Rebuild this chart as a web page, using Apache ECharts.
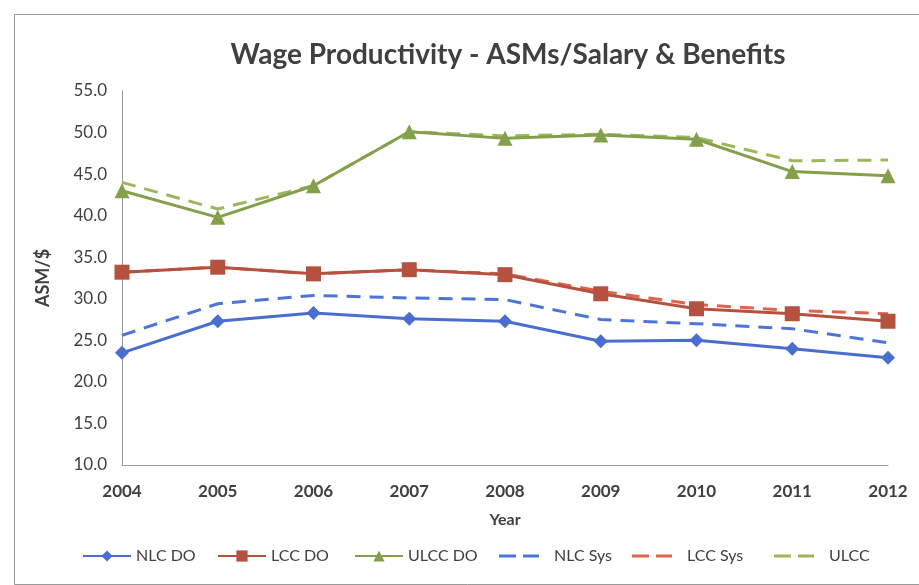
<!DOCTYPE html>
<html>
<head>
<meta charset="utf-8">
<script src="https://cdn.jsdelivr.net/npm/echarts@6/dist/echarts.min.js"></script>
<style>
  html, body { margin: 0; padding: 0; background: #ffffff; }
  #chart { width: 919px; height: 585px; }
</style>
</head>
<body>
<div id="chart"></div>
<script>
// Years on the category axis
const years = ['2004', '2005', '2006', '2007', '2008', '2009', '2010', '2011', '2012'];

// ASMs per dollar of salary & benefits, domestic operations
const nlcDO  = [23.5, 27.3, 28.3, 27.6, 27.3, 24.9, 25.0, 24.0, 22.9];
const lccDO  = [33.2, 33.8, 33.0, 33.5, 32.9, 30.6, 28.8, 28.2, 27.3];
const ulccDO = [43.0, 39.8, 43.6, 50.1, 49.3, 49.7, 49.2, 45.3, 44.8];

// System-wide figures
const nlcSys  = [25.6, 29.4, 30.4, 30.1, 29.9, 27.5, 27.0, 26.4, 24.7];
const lccSys  = [33.2, 33.8, 33.0, 33.5, 33.0, 30.9, 29.3, 28.6, 28.2];
const ulccSys = [44.0, 40.8, 43.6, 50.1, 49.6, 49.8, 49.4, 46.6, 46.7];

const FONT = 'Lato, "Open Sans", sans-serif';
const TEXT = '#404040';
const BLUE = '#4A6DD0', RED = '#B5513F', GREEN = '#84A04A';
const BLUE_D = '#4E74DA', RED_D = '#E0624F', GREEN_D = '#9CB65C';

// two short dashes, used as the legend icon of the dashed series
const DASH_ICON = 'path://M0,0H17V3H0Z M24,0H40V3H24Z';

function solid(name, data, color, symbol, size) {
  return {
    name, type: 'line', data,
    symbol, symbolSize: size,
    lineStyle: { color, width: 3 },
    itemStyle: { color },
    z: 3
  };
}
function dashed(name, data, color) {
  return {
    name, type: 'line', data,
    symbol: 'none',
    lineStyle: { color, width: 3, type: [14, 9] },
    itemStyle: { color },
    z: 2
  };
}

// one legend block per series so each entry sits at its own spot
function legendAt(name, left, isDash) {
  const base = {
    top: 543, left,
    itemHeight: 14,
    textStyle: { fontFamily: FONT, fontSize: 16, color: TEXT },
    selectedMode: false
  };
  if (isDash) {
    return Object.assign(base, {
      itemWidth: 40,
      data: [{ name, icon: DASH_ICON }],
      textStyle: { fontFamily: FONT, fontSize: 16, color: TEXT, padding: [0, 0, 0, 10] }
    });
  }
  return Object.assign(base, { itemWidth: 48, data: [name] });
}

const chart = echarts.init(document.getElementById('chart'), null, { renderer: 'canvas' });
chart.setOption({
  backgroundColor: '#ffffff',
  animation: false,
  graphic: [{
    type: 'rect', left: 12, top: 12, z: -1,
    shape: { width: 915, height: 570 },
    style: { fill: 'none', stroke: '#9a9a9a', lineWidth: 1 }
  }],
  title: {
    text: 'Wage Productivity - ASMs/Salary & Benefits',
    left: 503, top: 36, textAlign: 'center',
    textStyle: { fontFamily: FONT, fontWeight: 'bold', fontSize: 28, color: TEXT }
  },
  legend: [
    legendAt('NLC DO', 77, false),
    legendAt('LCC DO', 212, false),
    legendAt('ULCC DO', 349, false),
    legendAt('NLC Sys', 494, true),
    legendAt('LCC Sys', 627, true),
    legendAt('ULCC', 769, true)
  ],
  grid: { left: 122, right: 31, top: 91, bottom: 120 },
  xAxis: {
    type: 'category', data: years, boundaryGap: false,
    name: 'Year', nameLocation: 'middle', nameGap: 47,
    nameTextStyle: { fontFamily: FONT, fontWeight: 'bold', fontSize: 16, color: TEXT },
    axisLine: { lineStyle: { color: '#9a9a9a', width: 1 } },
    axisTick: { show: false },
    axisLabel: { fontFamily: FONT, fontWeight: 'bold', fontSize: 17, color: TEXT, margin: 18 }
  },
  yAxis: {
    type: 'value', min: 10, max: 55, interval: 5,
    name: 'ASM/$', nameLocation: 'middle', nameGap: 70,
    nameTextStyle: { fontFamily: FONT, fontWeight: 'bold', fontSize: 18, color: TEXT },
    axisLine: { show: true, lineStyle: { color: '#9a9a9a', width: 1 } },
    axisTick: { show: false },
    splitLine: { show: false },
    axisLabel: {
      fontFamily: FONT, fontSize: 17, color: TEXT, margin: 15,
      formatter: v => v.toFixed(1)
    }
  },
  series: [
    solid('NLC DO', nlcDO, BLUE, 'diamond', 14),
    solid('LCC DO', lccDO, RED, 'rect', 15),
    solid('ULCC DO', ulccDO, GREEN, 'triangle', 15),
    dashed('NLC Sys', nlcSys, BLUE_D),
    dashed('LCC Sys', lccSys, RED_D),
    dashed('ULCC', ulccSys, GREEN_D)
  ]
});
</script>
</body>
</html>
